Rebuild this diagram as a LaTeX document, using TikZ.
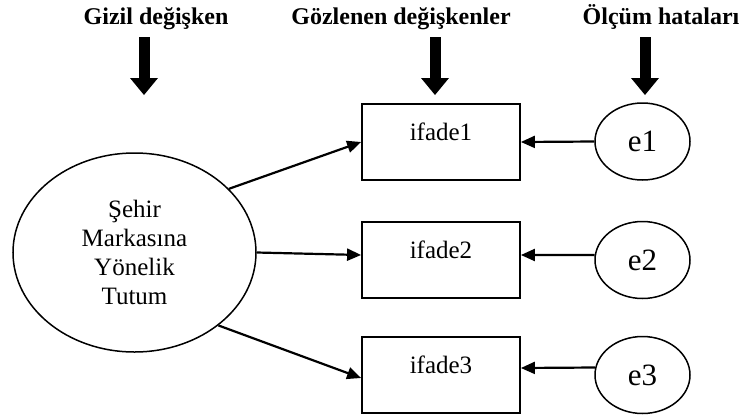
\documentclass[tikz,border=0pt]{standalone}
\usepackage{fontspec}
\setmainfont{Liberation Serif}
\usetikzlibrary{arrows.meta,shapes.geometric}
\begin{document}
\begin{tikzpicture}[x=1pt,y=-1pt,
  header/.style={font=\fontsize{24}{28}\selectfont\bfseries, anchor=base, inner sep=0pt},
  bigarrow/.style={line width=11pt, -{Triangle[length=17pt,width=28pt,line width=0pt]}},
  latent/.style={ellipse, draw, line width=1.5pt, minimum width=243pt, minimum height=199pt,
    inner sep=0pt, align=center, font=\fontsize{25}{29}\selectfont},
  observed/.style={rectangle, draw, line width=1.8pt, minimum width=158pt, inner sep=0pt,
    text height=36.5pt, text depth=39.5pt, font=\fontsize{25}{30}\selectfont},
  errnode/.style={ellipse, draw, line width=1.5pt, minimum width=95pt, minimum height=77pt,
    inner sep=0pt, font=\fontsize{31}{36}\selectfont},
  link/.style={line width=2.2pt, -{Triangle[length=14pt,width=12pt]}}
]
\path[use as bounding box] (0,0) rectangle (742,416);

% column headings
\node[header] (h1) at (156,24) {Gizil değişken};
\node[header] (h2) at (401,24) {Gözlenen değişkenler};
\node[header] (h3) at (661,24) {Ölçüm hataları};

% heavy pointers under the headings
\coordinate (p1a) at (144,37); \coordinate (p1b) at (144,95);
\coordinate (p2a) at (435,37); \coordinate (p2b) at (435,95);
\coordinate (p3a) at (645,37); \coordinate (p3b) at (645,95);
\draw[bigarrow] (p1a) -- (p1b);
\draw[bigarrow] (p2a) -- (p2b);
\draw[bigarrow] (p3a) -- (p3b);

% latent variable
\node[latent] (lat) at (134.5,252.5) {Şehir\\Markasına\\Yönelik\\Tutum};

% observed items
\node[observed] (b1) at (441,142) {ifade1};
\node[observed] (b2) at (441,260) {ifade2};
\node[observed] (b3) at (441,375) {ifade3};

% error terms
\node[errnode] (e1) at (642.5,141.5) {e1};
\node[errnode] (e2) at (642.5,260) {e2};
\node[errnode] (e3) at (642.5,375) {e3};

% loadings
\draw[link] (lat.34.5) -- (b1.west);
\draw[link] (lat.east) -- ([yshift=5pt]b2.west);
\draw[link] (lat.-41.3) -- ([yshift=-3pt]b3.west);

% error paths
\draw[link] (e1.west) -- (b1.east);
\draw[link] (e2.174) -- ([yshift=5pt]b2.east);
\draw[link] (e3.171.5) -- ([yshift=7pt]b3.east);
\end{tikzpicture}
\end{document}
